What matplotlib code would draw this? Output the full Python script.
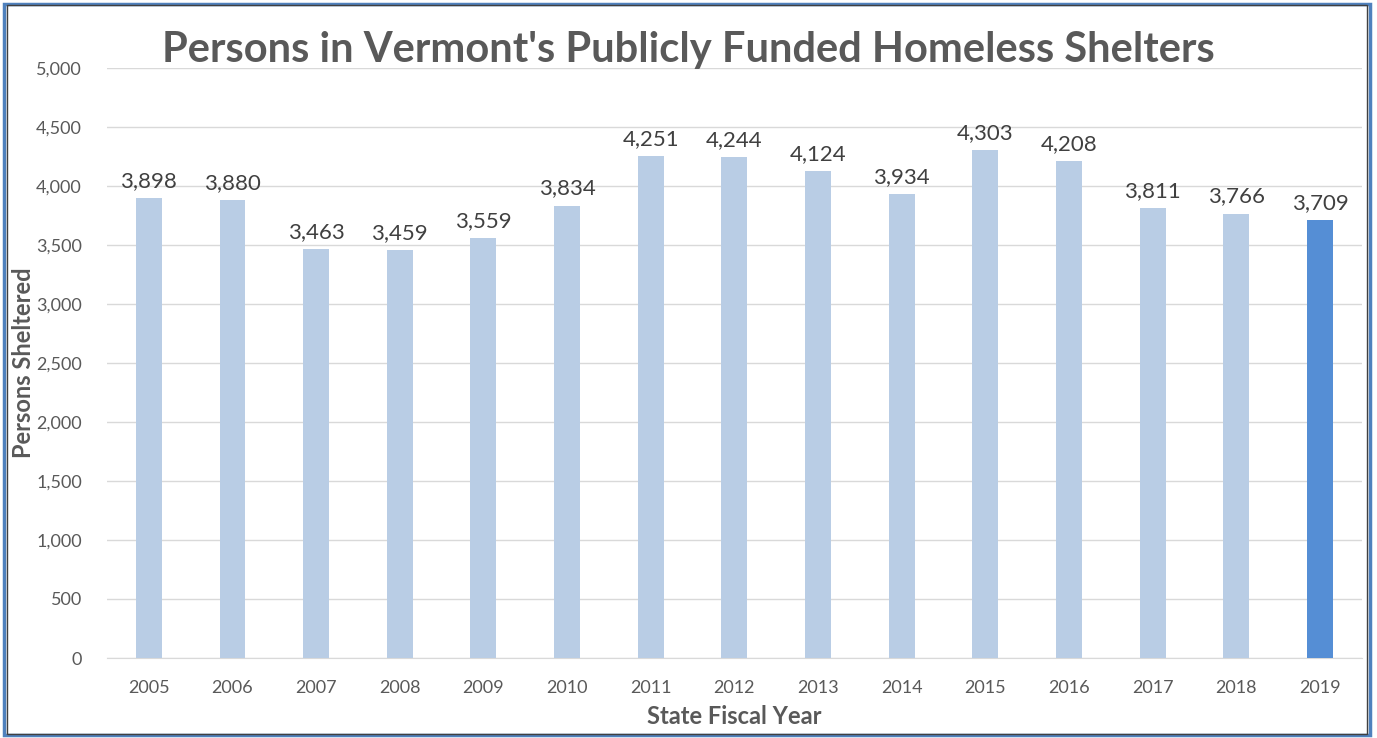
import numpy as np
import matplotlib.pyplot as plt
from matplotlib.patches import Rectangle

years = ['2005', '2006', '2007', '2008', '2009', '2010', '2011', '2012',
         '2013', '2014', '2015', '2016', '2017', '2018', '2019']
persons = [3898, 3880, 3463, 3459, 3559, 3834, 4251, 4244,
           4124, 3934, 4303, 4208, 3811, 3766, 3709]

plt.rcParams['font.family'] = ['Lato', 'DejaVu Sans']

fig = plt.figure(figsize=(13.77, 7.38), dpi=100)
ax = fig.add_axes([0.0777, 0.1084, 0.9113, 0.7995])

x = np.arange(len(years))
colors = ['#B9CDE5'] * (len(years) - 1) + ['#558ED5']
bars = ax.bar(x, persons, width=0.31, color=colors, zorder=3)

for xi, v in zip(x, persons):
    ax.text(xi, v + 60, f'{v:,}', ha='center', va='bottom',
            fontsize=16, color='#404040')

ax.set_xlim(-0.5, len(years) - 0.5)
ax.set_ylim(0, 5000)
ax.set_yticks(np.arange(0, 5001, 500))
ax.set_yticklabels([f'{t:,}' for t in range(0, 5001, 500)])
ax.set_xticks(x)
ax.set_xticklabels(years)
ax.tick_params(axis='both', length=0, labelsize=13, labelcolor='#595959')
ax.tick_params(axis='y', pad=18)
ax.tick_params(axis='x', pad=16)

ax.grid(axis='y', color='#D9D9D9', lw=1, zorder=0)
for s in ['top', 'right', 'left']:
    ax.spines[s].set_visible(False)
ax.spines['bottom'].set_color('#D9D9D9')

ax.set_xlabel('State Fiscal Year', fontsize=17, fontweight='bold', color='#595959', labelpad=6)
ax.set_ylabel('Persons Sheltered', fontsize=17, fontweight='bold', color='#595959')
ax.yaxis.set_label_coords(-0.057, 0.5)

fig.text(0.5, 0.932, "Persons in Vermont's Publicly Funded Homeless Shelters",
         ha='center', va='center', fontsize=30, fontweight='bold', color='#595959')

# frame around the chart
fig.patches.append(Rectangle((0.003, 0.004), 0.992, 0.991, transform=fig.transFigure,
                             fill=False, edgecolor='#4F81BD', lw=2.5))
fig.patches.append(Rectangle((0.005, 0.006), 0.988, 0.987, transform=fig.transFigure,
                             fill=False, edgecolor='#404040', lw=1))

fig.savefig('out.png', dpi=100)
